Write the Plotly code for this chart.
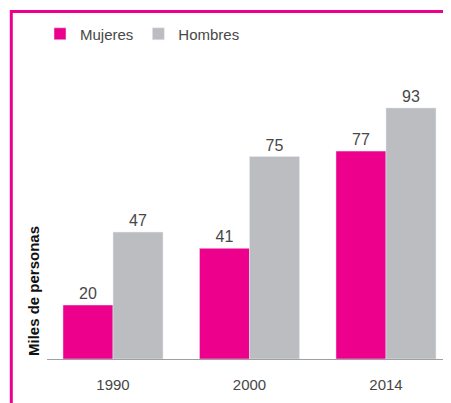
import plotly.graph_objects as go

years = ["1990", "2000", "2014"]
mujeres = [20, 41, 77]
hombres = [47, 75, 93]

MAGENTA = "#EC008C"
GREY = "#BCBDC0"
TXT = "#474747"
FONT = "Liberation Sans, Arial, sans-serif"

OFF = 8  # browser default body margin
W, H = 451 - OFF, 403 - OFF
ML, MR, MT, MB = 47 - OFF, 1, 40 - OFF, 44
pw = W - ML - MR
ph = H - MT - MB

fig = go.Figure()
fig.add_trace(go.Bar(name="Mujeres", x=years, y=mujeres, marker_color=MAGENTA,
                     text=mujeres, textposition="outside", cliponaxis=False,
                     textfont=dict(size=16, color=TXT, family=FONT)))
fig.add_trace(go.Bar(name="Hombres", x=years, y=hombres, marker_color=GREY,
                     text=hombres, textposition="outside", cliponaxis=False,
                     textfont=dict(size=16, color=TXT, family=FONT)))

def px_x(p):
    return (p - OFF - ML) / pw

def px_y(p):
    return (H - MB - (p - OFF)) / ph

fig.update_layout(
    width=W, height=H,
    margin=dict(l=ML, r=MR, t=MT, b=MB),
    paper_bgcolor="white", plot_bgcolor="white",
    barmode="group", bargap=0.267, bargroupgap=0,
    font=dict(family=FONT, size=15, color=TXT),
    showlegend=True,
    legend=dict(orientation="h", x=px_x(40), xanchor="left", y=px_y(34), yanchor="middle",
                font=dict(size=15, color=TXT, family=FONT), bgcolor="rgba(0,0,0,0)",
                itemwidth=30),
    xaxis=dict(range=[-0.4835, 2.469], showline=True, linecolor="#A0A0A0", linewidth=1,
               ticks="", showgrid=False, zeroline=False, ticklabelstandoff=12,
               tickfont=dict(size=15, color=TXT, family=FONT)),
    yaxis=dict(range=[0, ph / 2.7], showticklabels=False, showgrid=False, zeroline=False,
               showline=False, ticks=""),
    shapes=[
        dict(type="line", xref="paper", yref="paper", x0=px_x(11.3), x1=px_x(460),
             y0=px_y(11.5), y1=px_y(11.5), line=dict(color=MAGENTA, width=3)),
        dict(type="line", xref="paper", yref="paper", x0=px_x(11.3), x1=px_x(11.3),
             y0=px_y(10), y1=px_y(410), line=dict(color=MAGENTA, width=3)),
    ],
    annotations=[
        dict(text="Miles de personas", textangle=-90, xref="paper", yref="paper",
             x=px_x(33), y=px_y(358), xanchor="center", yanchor="bottom", showarrow=False,
             font=dict(size=15, color="#111111", family=FONT, weight="bold")),
    ],
)

fig.write_html("out.html")
